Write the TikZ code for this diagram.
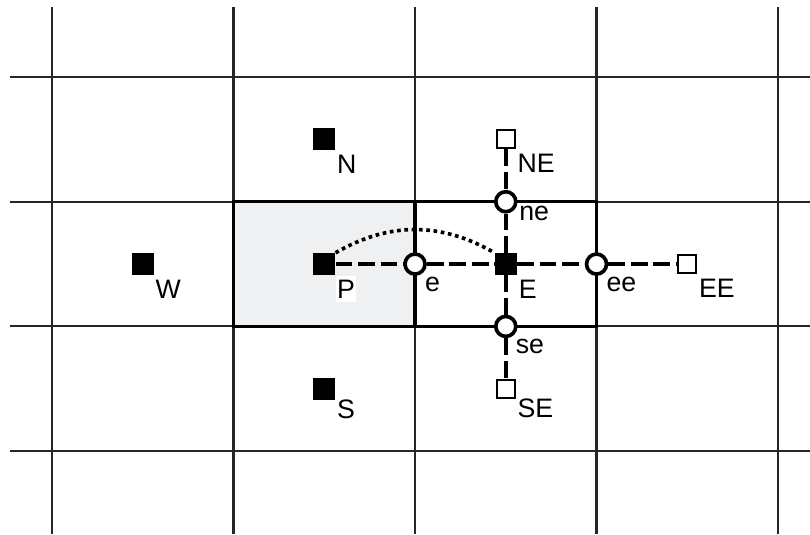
\documentclass[tikz,border=0pt]{standalone}
\usepackage{fontspec}
\setmainfont{Liberation Sans}
\usetikzlibrary{calc}
\definecolor{cellgray}{RGB}{238,240,241}
\tikzset{
  nodept/.style={rectangle, fill=black, minimum size=0.55cm, inner sep=0pt},
  farpt/.style={rectangle, draw=black, fill=white, line width=1.6pt, minimum size=0.45cm, inner sep=0pt},
  facept/.style={circle, draw=black, fill=white, line width=2.6pt, minimum size=0.5cm, inner sep=0pt},
  lbl/.style={font=\fontsize{19}{21}\selectfont, anchor=north west, inner xsep=1pt, inner ysep=3pt},
  link/.style={line width=2.7pt, dash pattern=on 12pt off 4pt},
  gridline/.style={line width=1.5pt, black!85}
}

\begin{document}
\begin{tikzpicture}[x=4.5375cm, y=-3.1175cm]
\useasboundingbox (-0.2865,-0.6175) rectangle (4.176,3.665);
% mesh
\foreach \i in {0,...,4}
  \draw[gridline] (\i,-0.56) -- (\i,3.665);
\foreach \j in {0,...,3}
  \draw[gridline] (-0.231,\j) -- (4.176,\j);
% control volumes of P and E
\filldraw[fill=cellgray, line width=2.2pt] (1,1) rectangle (2,2);
\draw[line width=2.2pt] (2,1) rectangle (3,2);
% nodes
\node[nodept] (P) at (1.5,1.5) {};
\node[nodept] (W) at (0.5,1.5) {};
\node[nodept] (N) at (1.5,0.5) {};
\node[nodept] (S) at (1.5,2.5) {};
\node[nodept] (E) at (2.5,1.5) {};
\node[farpt] (NE) at (2.5,0.5) {};
\node[farpt] (SE) at (2.5,2.5) {};
\node[farpt] (EE) at (3.5,1.5) {};
% faces
\node[facept] (e) at (2,1.5) {};
\node[facept] (ee) at (3,1.5) {};
\node[facept] (ne) at (2.5,1) {};
\node[facept] (se) at (2.5,2) {};
% stencil
\foreach \a/\b in {P/e, e/E, E/ee, ee/EE, NE/ne, ne/E, E/se, se/SE}
  \draw[link] (\a) -- (\b);
\draw[line width=2.6pt, dash pattern=on 2.6pt off 2.6pt] (P.north east) to[bend left=30] (E.north west);
% labels
\node[lbl, fill=white] (Plbl) at (P.south east) {P};
\node[lbl] (Wlbl) at (W.south east) {W};
\node[lbl] (Nlbl) at (N.south east) {N};
\node[lbl, yshift=3pt] (Slbl) at (S.south east) {S};
\node[lbl] (Elbl) at (E.south east) {E};
\node[lbl] (NElbl) at (NE.south east) {NE};
\node[lbl, yshift=3pt] (SElbl) at (SE.south east) {SE};
\node[lbl] (EElbl) at (EE.south east) {EE};
\node[lbl] (elbl) at (e.south east) {e};
\node[lbl] (eelbl) at (ee.south east) {ee};
\node[lbl] (nelbl) at (ne.east) {ne};
\node[lbl] (selbl) at (se.south east) {se};
\end{tikzpicture}
\end{document}
